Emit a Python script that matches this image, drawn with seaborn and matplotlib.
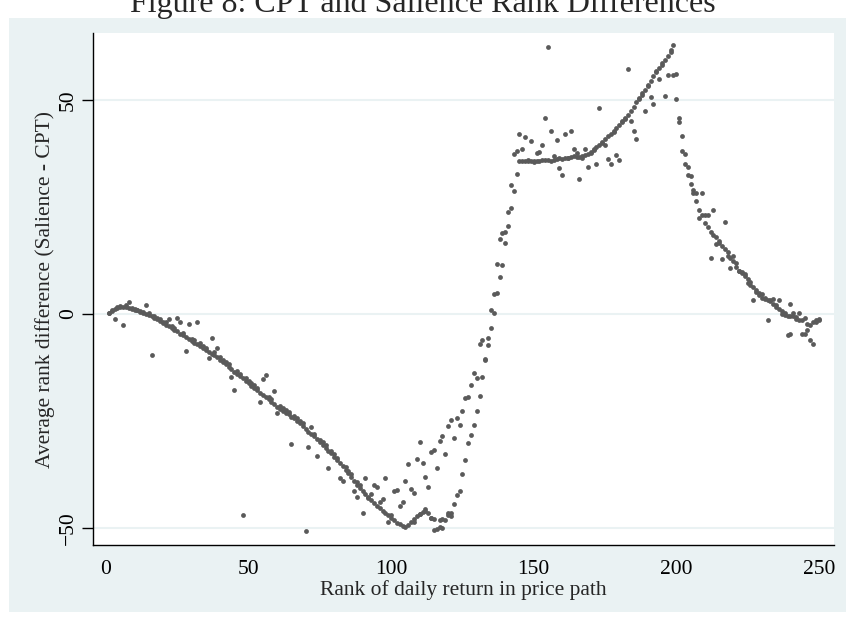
import numpy as np
import pandas as pd
import matplotlib
matplotlib.use("Agg")
import matplotlib.pyplot as plt
import seaborn as sns
from matplotlib.patches import Rectangle

# rank of the daily return, 1..250
rank = list(range(1, 251))

# first sample per rank (the tight curve)
diff_a = [
    0.3, 0.6, 1.2, 1.4, 1.6, 1.7, 1.5, 1.4, 1.1, 1.0,
    0.8, 0.5, 0.2, -0.1, -0.3, -0.6, -1.0, -1.3, -1.7, -2.2,
    -2.5, -2.8, -3.3, -3.7, -4.1, -4.6, -5.0, -5.3, -5.8, -6.3,
    -6.8, -7.1, -7.5, -8.0, -8.4, -8.8, -9.3, -9.6, -10.1, -10.7,
    -11.2, -11.8, -12.4, -12.9, -13.5, -14.0, -14.6, -15.1, -15.6, -16.2,
    -16.8, -17.3, -17.8, -18.4, -18.9, -19.5, -20.0, -20.6, -21.1, -21.7,
    -22.2, -22.6, -23.1, -23.5, -24.0, -24.4, -25.0, -25.6, -26.2, -26.9,
    -27.5, -28.0, -28.6, -29.3, -30.0, -30.6, -31.3, -32.0, -32.6, -33.5,
    -34.2, -34.9, -35.6, -36.4, -37.2, -38.0, -39.0, -39.9, -40.8, -41.4,
    -42.0, -42.7, -43.5, -44.2, -44.8, -45.4, -46.0, -46.6, -47.1, -47.6,
    -48.2, -48.8, -49.2, -49.6, -49.9, -49.3, -48.6, -48.0, -47.3, -46.8,
    -46.2, -45.6, -46.5, -47.8, -50.4, -50.2, -48.2, -50.0, -48.2, -46.6,
    -47.3, -44.5, -42.3, -41.4, -37.5, -34.1, -30.2, -28.2, -25.9, -22.6,
    -19.1, -14.8, -10.9, -7.3, -3.4, 0.3, 4.9, 8.7, 11.3, 16.5,
    20.4, 24.7, 28.6, 32.6, 35.6, 35.7, 35.7, 35.6, 35.8, 35.7,
    35.6, 35.8, 35.9, 36.0, 35.9, 35.8, 36.0, 36.1, 36.3, 36.2,
    36.4, 36.5, 36.7, 36.8, 36.7, 36.6, 36.8, 37.1, 37.4, 37.9,
    38.4, 38.9, 39.5, 40.2, 40.8, 41.5, 42.1, 42.8, 43.5, 44.2,
    45.0, 45.8, 46.5, 47.4, 48.4, 49.5, 50.5, 51.5, 52.4, 53.2,
    54.3, 55.5, 56.5, 57.5, 58.5, 59.3, 60.3, 61.6, 62.7, 50.1,
    44.8, 38.0, 35.0, 32.5, 30.3, 28.3, 26.4, 24.2, 23.1, 23.2,
    23.2, 19.2, 18.3, 17.9, 17.1, 15.8, 15.2, 14.4, 13.0, 13.6,
    10.9, 9.9, 9.7, 9.2, 8.1, 7.4, 6.2, 5.6, 4.9, 4.6,
    3.4, 3.2, 2.9, 3.4, 1.6, 1.1, 0.6, 0.2, -0.5, -0.6,
    -0.5, -1.3, -1.5, -1.5, -0.9, -2.4, -2.6, -2.0, -1.5, -1.4,
]

# second sample per rank (noisier)
diff_b = [
    0.1, 0.9, -1.2, 1.7, 1.9, -2.7, 2.0, 2.7, 1.3, 1.2,
    1.0, 0.7, 0.4, 2.1, 0.2, -9.7, -0.5, -0.9, -1.2, -1.8,
    -2.0, -1.3, -2.9, -3.2, -1.0, -1.8, -4.4, -8.7, -2.3, -5.8,
    -6.0, -2.0, -6.9, -7.4, -7.9, -10.4, -5.6, -9.0, -8.0, -10.0,
    -10.7, -11.2, -11.8, -14.7, -17.8, -13.4, -14.0, -47.0, -15.0, -15.6,
    -16.2, -16.7, -17.3, -20.6, -15.2, -14.3, -19.4, -20.0, -18.1, -23.2,
    -21.6, -22.0, -22.5, -23.0, -30.3, -23.8, -24.4, -25.0, -25.6, -50.8,
    -31.2, -26.4, -28.0, -33.2, -29.4, -30.0, -30.7, -36.0, -32.0, -32.8,
    -33.6, -38.4, -39.0, -35.8, -36.6, -37.4, -41.5, -39.2, -40.0, -46.5,
    -38.4, -43.0, -42.0, -40.0, -40.4, -44.0, -43.3, -38.4, -48.6, -47.0,
    -41.5, -41.2, -45.0, -43.9, -39.0, -35.1, -41.0, -41.8, -33.9, -30.0,
    -34.9, -38.0, -40.4, -32.2, -31.8, -35.9, -29.8, -28.5, -32.7, -26.1,
    -24.7, -29.0, -24.3, -25.9, -22.6, -19.6, -19.4, -16.7, -13.9, -15.0,
    -7.1, -6.1, -10.6, -5.6, 0.9, 4.6, 11.7, 17.5, 18.9, 19.1,
    23.8, 30.0, 37.3, 38.1, 41.9, 38.4, 41.2, 35.9, 40.4, 35.5,
    37.5, 37.9, 39.4, 45.7, 62.3, 42.8, 36.9, 40.6, 34.0, 32.4,
    42.0, 36.3, 42.6, 38.4, 37.5, 31.5, 36.5, 38.5, 34.3, 37.6,
    38.2, 35.0, 48.0, 39.9, 39.5, 36.2, 35.0, 42.5, 37.2, 36.0,
    44.7, 45.5, 57.3, 45.1, 42.6, 40.8, 50.2, 51.2, 47.3, 53.5,
    50.7, 49.1, 56.8, 54.9, 58.2, 51.0, 55.7, 61.2, 55.7, 56.1,
    45.8, 41.5, 37.4, 34.3, 32.1, 29.0, 28.3, 22.5, 28.2, 21.2,
    20.3, 13.0, 24.2, 16.2, 16.5, 12.7, 21.4, 13.4, 10.6, 12.3,
    11.8, 10.1, 9.5, 8.8, 7.1, 6.8, 3.2, 5.2, 4.4, 3.7,
    3.8, -1.5, 3.3, 2.3, 2.0, 3.2, 0.0, -0.3, -4.9, -4.6,
    0.2, -0.8, 0.1, -4.6, -4.6, -3.8, -6.2, -7.1, -1.8, -1.2,
]

# a few more points in the lower cluster and the tail
extra_rank = [108, 110, 112, 114, 115, 117, 118, 120, 121, 240, 88]
extra_diff = [-48.6, -46.8, -46.0, -47.8, -48.0, -49.8, -48.0, -47.0, -46.6, 2.4, -42.7]

x_ticks = [0, 50, 100, 150, 200, 250]
y_ticks = [-50, 0, 50]

df = pd.DataFrame({
    "rank": rank + rank + extra_rank,
    "diff": diff_a + diff_b + extra_diff,
})

sns.set_style("white")
plt.rcParams["font.family"] = ["Liberation Serif", "DejaVu Serif"]

W, H = 846, 618
fig = plt.figure(figsize=(W / 100, H / 100), dpi=100)
fig.patch.set_facecolor("white")

# stata-like light panel behind the plot region
fig.patches.append(Rectangle((9 / W, 1 - 612 / H), 1 - 9 / W, (612 - 18) / H,
                             transform=fig.transFigure, facecolor="#EAF2F3",
                             edgecolor="none", zorder=-1))

ax = fig.add_axes([93 / W, 1 - 545 / H, (834 - 93) / W, (545 - 33) / H])
ax.set_facecolor("white")

sns.scatterplot(data=df, x="rank", y="diff", color="#5a5a5a", s=12,
                linewidth=0, ax=ax, zorder=3)

ax.set_xlim(-4.56, 255.3)
ax.set_ylim(-54.0, 65.6)
ax.set_xticks(x_ticks)
ax.set_yticks(y_ticks)

ax.yaxis.grid(True, color="#EAF2F3", linewidth=1.5)
ax.xaxis.grid(False)
ax.set_axisbelow(True)

for side in ["top", "right"]:
    ax.spines[side].set_visible(False)
for side in ["left", "bottom"]:
    ax.spines[side].set_color("black")
    ax.spines[side].set_linewidth(1.0)

ax.tick_params(axis="both", direction="out", length=8, width=1.0,
               color="black", labelsize=15.5, labelcolor="black")
ax.tick_params(axis="x", pad=3)
ax.tick_params(axis="y", pad=3, labelrotation=90, left=True)
for lbl in ax.get_yticklabels():
    lbl.set_va("center")

ax.set_xlabel("Rank of daily return in price path", fontsize=15.5, va="center")
ax.set_ylabel("Average rank difference (Salience - CPT)", fontsize=15.5, va="center")
ax.xaxis.set_label_coords(0.5, (545 - 590) / 512)
ax.yaxis.set_label_coords((45 - 93) / 741, 0.5)

fig.text(0.5, 1 - 12 / H, "Figure 8: CPT and Salience Rank Differences",
         ha="center", va="baseline", fontsize=23)

fig.savefig("out.png", dpi=100)
